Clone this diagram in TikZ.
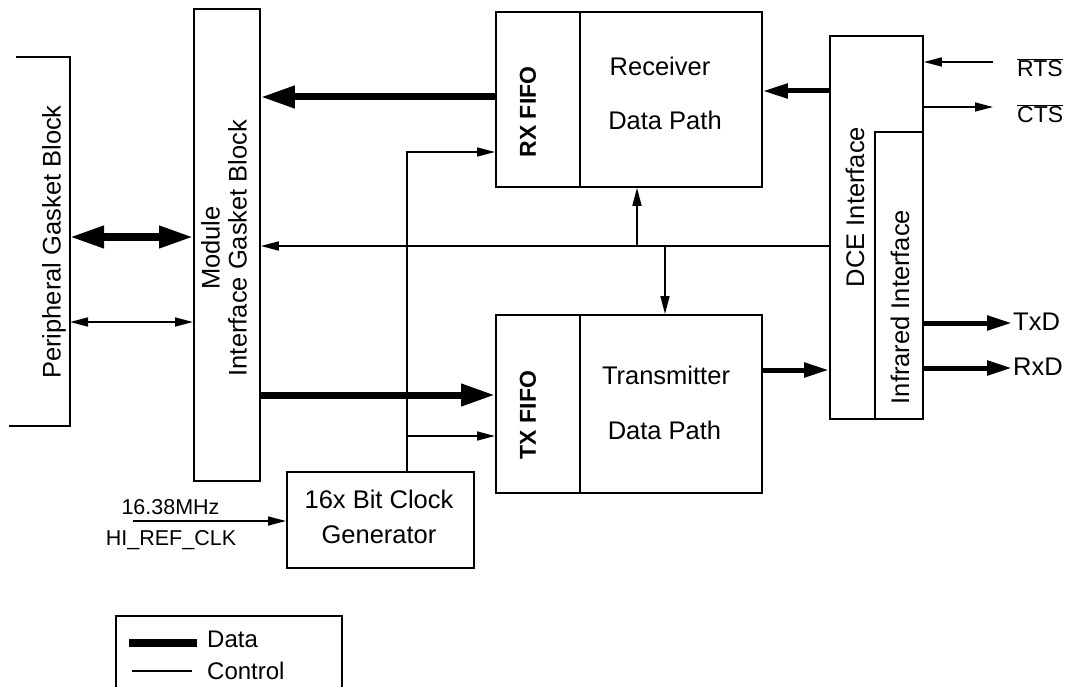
\documentclass[tikz,border=0pt]{standalone}
\usepackage{fontspec}
\setmainfont{Liberation Sans}
\usetikzlibrary{arrows.meta}
\begin{document}
\begin{tikzpicture}[x=1pt,y=-1pt,
  box/.style={draw,line width=1.8pt,rectangle,inner sep=0pt,anchor=north west},
  lbl/.style={font=\fontsize{25.5}{29}\selectfont,inner sep=0pt},
  small/.style={font=\fontsize{21.5}{25}\selectfont,inner sep=0pt},
  fifo/.style={font=\fontsize{23}{27}\bfseries\selectfont,inner sep=0pt,rotate=90},
  ctl/.style={line width=1.6pt},
  ctlarrow/.style={line width=1.6pt,-{Triangle[length=18pt,width=9pt]}},
  ctlboth/.style={line width=1.6pt,{Triangle[length=18pt,width=9pt]}-{Triangle[length=18pt,width=9pt]}},
  dataarrow/.style={line width=7pt,-{Triangle[length=34pt,width=21pt]}},
  databoth/.style={line width=7pt,{Triangle[length=34pt,width=21pt]}-{Triangle[length=34pt,width=21pt]}},
  datathin/.style={line width=5pt,-{Triangle[length=25pt,width=14pt]}}
]
\useasboundingbox (0,0) rectangle (1068,687);
% boxes
\node[box,minimum width=66pt,minimum height=472pt] (mod) at (193,8) {};
\node[box,minimum width=266pt,minimum height=175pt] (rx) at (495,11) {};
\node[box,minimum width=266pt,minimum height=178pt] (tx) at (495,314) {};
\node[box,minimum width=93pt,minimum height=383pt] (dce) at (829,35) {};
\node[box,minimum width=48pt,minimum height=287pt] (ir) at (874,131) {};
\node[box,minimum width=187pt,minimum height=96pt] (clk) at (286,471) {};
\node[box,minimum width=226pt,minimum height=90pt] (leg) at (115,615) {};
% dividers
\draw[line width=1.8pt] (rx.north west) ++(85,0) coordinate (rxd) -- (rxd |- rx.south);
\draw[line width=1.8pt] (tx.north west) ++(85,0) coordinate (txd) -- (txd |- tx.south);
% peripheral bracket
\coordinate (pt) at (70,57);
\coordinate (pb) at (70,426);
\draw[line width=1.8pt] (16,57) -- (pt) -- (pb) -- (9,426);
% texts
\node[lbl,rotate=90] (ptxt) at (54,242) {Peripheral Gasket Block};
\node[lbl,rotate=90,align=center,font=\fontsize{25.5}{27}\selectfont] (mtxt) at (224,248) {Module\\Interface Gasket Block};
\node[fifo] (rxf) at (528,112) {RX FIFO};
\node[fifo] (txf) at (528,415) {TX FIFO};
\node[lbl] (rcv) at (660,66) {Receiver};
\node[lbl] (rdp) at (665,120) {Data Path};
\node[lbl] (tmt) at (666,375) {Transmitter};
\node[lbl] (tdp) at (664.5,430) {Data Path};
\node[lbl,rotate=90] (dcet) at (855,207) {DCE Interface};
\node[lbl,rotate=90] (irt) at (900,307) {Infrared Interface};
\node[lbl,anchor=base] (clkt1) at (379,508) {16x Bit Clock};
\node[lbl,anchor=base] (clkt2) at (379,543) {Generator};
% data connections
\draw[dataarrow] (rx.west |- 0,97) -- (mod.east |- 0,97);
\draw[dataarrow] (mod.east |- 0,395) -- (tx.west |- 0,395);
\draw[databoth] (70,237) -- (mod.west |- 0,237);
\draw[ctlboth] (70,322) -- (mod.west |- 0,322);
\draw[datathin] (dce.west |- 0,91) -- (rx.east |- 0,91);
\draw[datathin] (tx.east |- 0,370) -- (dce.west |- 0,370);
\draw[datathin] (ir.east |- 0,323) coordinate (txs) -- (1012,323) coordinate (txe);
\draw[datathin] (ir.east |- 0,368) coordinate (rxs) -- (1012,368) coordinate (rxe);
% control
\coordinate (c1) at (407,152);
\draw[ctlarrow] (clk.north -| c1) |- (rx.west |- c1);
\draw[ctlarrow] (c1 |- 0,436) -- (tx.west |- 0,436);
\draw[ctlarrow] (dce.west |- 0,246) -- (mod.east |- 0,246);
\coordinate (bu) at (637,246);
\coordinate (bd) at (665,246);
\draw[ctlarrow] (bu) -- (rx.south -| bu);
\draw[ctlarrow] (bd) -- (tx.north -| bd);
\coordinate (rtsS) at (993,62);
\coordinate (ctsE) at (993,107);
\draw[ctlarrow] (rtsS) -- (dce.east |- rtsS);
\draw[ctlarrow] (dce.east |- ctsE) -- (ctsE);
\node[small,anchor=base west,font=\fontsize{23}{27}\selectfont] (rts) at (1017,77) {$\overline{\hbox{RTS}}$};
\node[small,anchor=base west,font=\fontsize{23}{27}\selectfont] (cts) at (1017,123) {$\overline{\hbox{CTS}}$};
\node[lbl,anchor=base west] (txd) at (1013,330) {TxD};
\node[lbl,anchor=base west] (rxdt) at (1013,375) {RxD};
\coordinate (ck) at (133,521);
\draw[ctlarrow] (ck) -- (clk.west |- ck);
\node[small] (mhz) at (170.5,507) {16.38MHz};
\node[small] (href) at (171,540) {HI\_REF\_CLK};
% legend
\coordinate (l1a) at (129,643); \coordinate (l1b) at (197,643);
\coordinate (l2a) at (132,671); \coordinate (l2b) at (192,671);
\draw[line width=8pt] (l1a) -- (l1b);
\draw[ctl] (l2a) -- (l2b);
\node[small,anchor=base west,font=\fontsize{24}{27}\selectfont] (ld) at (207,647) {Data};
\node[small,anchor=base west,font=\fontsize{24}{27}\selectfont] (lc) at (207,679) {Control};
\end{tikzpicture}
\end{document}
